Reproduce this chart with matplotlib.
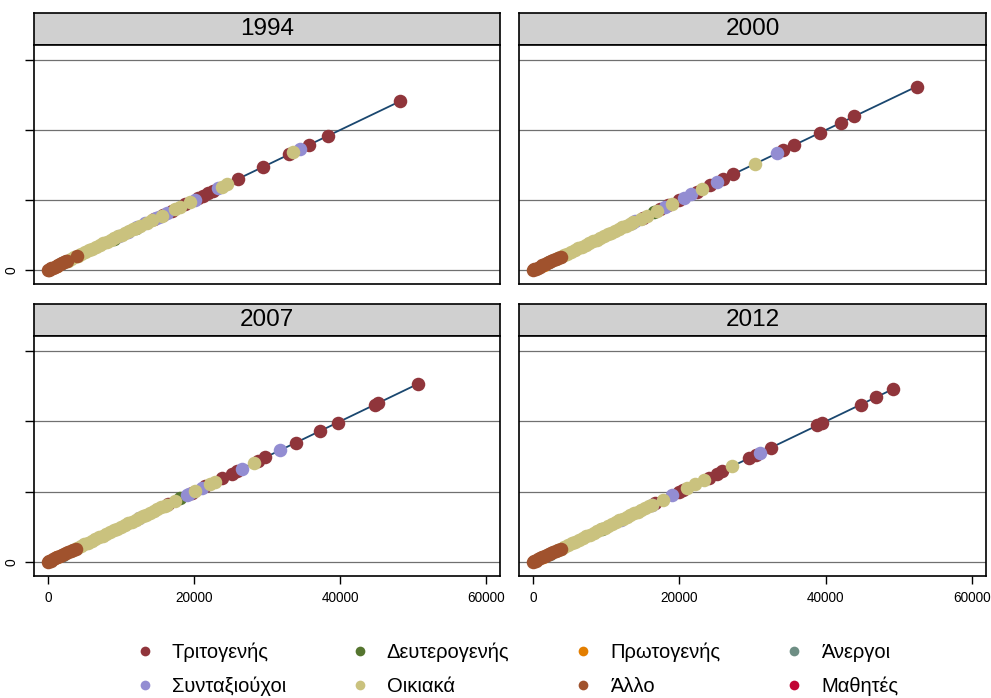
import matplotlib.pyplot as plt
from matplotlib.lines import Line2D

plt.rcParams['font.family'] = ['Liberation Sans', 'DejaVu Sans']

years = ['1994', '2000', '2007', '2012']
categories = ['Τριτογενής', 'Δευτερογενής', 'Πρωτογενής', 'Άνεργοι',
              'Συνταξιούχοι', 'Οικιακά', 'Άλλο', 'Μαθητές']
colours = ['#90353b', '#55752f', '#e37e00', '#6e8e84',
           '#938dd2', '#cac27e', '#a0522d', '#c10534']
line_colour = '#1a476f'

# --- 1994 ---
tri_1994 = [48200, 38400, 35750, 33060, 29450, 26030, 22650, 21960, 21270,
            20590, 18770, 16940, 15800, 14500]
deu_1994 = [9000, 12000]
prw_1994 = [1200]
ane_1994 = [2000]
syn_1994 = [34520, 23330, 20140, 16260, 15200, 14800, 13300, 12150, 11000, 9800]
oik_1994 = [33600, 24480, 23790, 19450, 18080, 17400, 15570, 14200, 13520, 12600,
            12100, 11600, 11100, 10600, 10100, 9600, 9100, 8600, 8100, 7600,
            7100, 6600, 6100, 5600, 5100, 4600, 4100, 3600, 3100, 2700]
all_1994 = [0, 100, 250, 450, 700, 950, 1200, 1450, 1700, 1950, 2200, 2450,
            2600, 4020]
mat_1994 = []

# --- 2000 ---
tri_2000 = [52420, 43880, 42050, 39180, 35660, 34200, 27350, 25980, 24250,
            22420, 19910, 18500, 17300, 15000]
deu_2000 = [16600]
prw_2000 = [1500]
ane_2000 = [2200]
syn_2000 = [33380, 25160, 21600, 20590, 18080, 13900, 13500]
oik_2000 = [30320, 23100, 19000, 16940, 15570, 14700, 13700, 13200, 12700,
            12200, 11700, 11200, 10700, 10200, 9700, 9200, 8700, 8200, 7700,
            7200, 6700, 6200, 5700, 5200, 4700, 4200, 3700, 3200]
all_2000 = [0, 150, 400, 700, 1000, 1300, 1600, 1900, 2200, 2500, 2800, 3100,
            3400, 3800]
mat_2000 = []

# --- 2007 ---
tri_2007 = [50640, 45250, 44790, 39680, 37260, 33970, 29730, 28810, 25840,
            25160, 23790, 21500, 19680, 16500]
deu_2007 = [18080]
prw_2007 = [1300]
ane_2007 = [2100]
syn_2007 = [31780, 26530, 21050, 19300, 19000, 12500]
oik_2007 = [28220, 22880, 22190, 20140, 17400, 16260, 16000, 15500, 15000,
            14500, 14000, 13500, 13000, 12500, 12000, 11500, 11000, 10500,
            10000, 9500, 9000, 8500, 8000, 7500, 7000, 6500, 6000, 5500, 5000,
            4500, 4000, 3500]
all_2007 = [0, 150, 400, 700, 1000, 1300, 1600, 1900, 2200, 2500, 2800, 3100,
            3400, 3800]
mat_2007 = []

# --- 2012 ---
tri_2012 = [49130, 46850, 44790, 39540, 38860, 32560, 30410, 29500, 25840,
            25160, 24020, 20500, 19910, 16700]
deu_2012 = [9500]
prw_2012 = [1400]
ane_2012 = [2300]
syn_2012 = [30960, 19000, 16260, 12000]
oik_2012 = [27210, 23330, 22190, 21050, 17710, 16260, 15800, 15300, 14800,
            14300, 13800, 13300, 12800, 12300, 11800, 11300, 10800, 10300,
            9800, 9300, 8800, 8300, 7800, 7300, 6800, 6300, 5800, 5300, 4800,
            4300, 3800, 3400]
all_2012 = [0, 150, 400, 700, 1000, 1300, 1600, 1900, 2200, 2500, 2800, 3100,
            3400, 3800]
mat_2012 = []

data = {
    '1994': [tri_1994, deu_1994, prw_1994, ane_1994, syn_1994, oik_1994, all_1994, mat_1994],
    '2000': [tri_2000, deu_2000, prw_2000, ane_2000, syn_2000, oik_2000, all_2000, mat_2000],
    '2007': [tri_2007, deu_2007, prw_2007, ane_2007, syn_2007, oik_2007, all_2007, mat_2007],
    '2012': [tri_2012, deu_2012, prw_2012, ane_2012, syn_2012, oik_2012, all_2012, mat_2012],
}

ticks = [0, 20000, 40000, 60000]

W, H = 991, 698
fig = plt.figure(figsize=(W / 100, H / 100), dpi=100)


def box(l, r, t, b):
    return [l / W, 1 - b / H, (r - l) / W, (b - t) / H]


# left, right, strip top, plot top, plot bottom (pixels)
panels = {
    '1994': (34, 500, 13, 45, 284),
    '2000': (519, 986, 13, 45, 284),
    '2007': (34, 500, 304, 336, 576),
    '2012': (519, 986, 304, 336, 576),
}

for i, yr in enumerate(years):
    l, r, st, pt, pb = panels[yr]
    left_col = i % 2 == 0
    bottom_row = i >= 2

    # strip with the year
    sax = fig.add_axes(box(l, r, st, pt))
    sax.set_facecolor('#d0d0d0')
    sax.set_xticks([])
    sax.set_yticks([])
    for sp in sax.spines.values():
        sp.set_linewidth(1.2)
    sax.text(0.5, 0.5, yr, ha='center', va='center', fontsize=17.5,
             transform=sax.transAxes)

    ax = fig.add_axes(box(l, r, pt, pb))
    for sp in ax.spines.values():
        sp.set_linewidth(1.2)
    ax.set_xlim(-1900, 61900)
    ax.set_ylim(-4000, 64300)

    for g in ticks:
        ax.axhline(g, color='#707070', lw=0.9, zorder=1)

    vals = sorted(v for group in data[yr] for v in group)
    ax.plot(vals, vals, color=line_colour, lw=1.3, zorder=2)
    for k, group in enumerate(data[yr]):
        if group:
            ax.scatter(group, group, s=95, color=colours[k], linewidths=0,
                       zorder=3 + k)

    ax.set_yticks(ticks)
    if left_col:
        ax.set_yticklabels(['0', '', '', ''], rotation=90, va='center',
                           fontsize=10)
        ax.tick_params(axis='y', direction='out', length=6.5, width=1, pad=5)
    else:
        ax.tick_params(axis='y', length=0, labelleft=False)

    ax.set_xticks(ticks)
    if bottom_row:
        ax.set_xticklabels([str(t) for t in ticks], fontsize=9.8)
        ax.tick_params(axis='x', direction='out', length=6, width=1, pad=5)
    else:
        ax.tick_params(axis='x', length=0, labelbottom=False)

# legend filled row by row (4 columns, 2 rows)
order = [0, 4, 1, 5, 2, 6, 3, 7]
handles = [Line2D([], [], marker='o', linestyle='none', markersize=7,
                  markerfacecolor=colours[k], markeredgecolor='none') for k in order]
labels = [categories[k] for k in order]
fig.legend(handles, labels, ncol=4, loc='center',
           bbox_to_anchor=(0.521, 0.041), frameon=False, fontsize=14.5,
           handletextpad=0.85, columnspacing=3.15, labelspacing=0.75,
           handlelength=1.0)

fig.savefig('out.png', dpi=100)
